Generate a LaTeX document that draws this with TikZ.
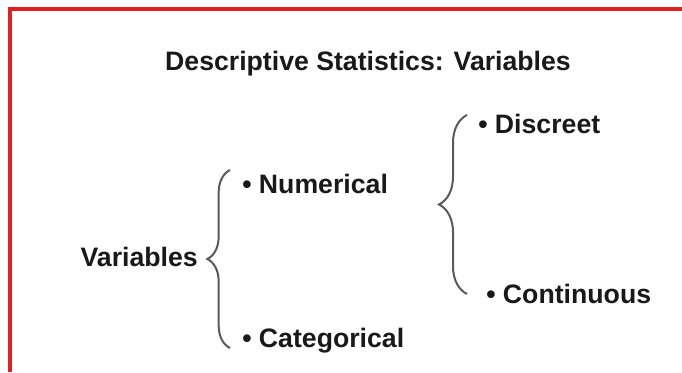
\documentclass[tikz,border=0pt]{standalone}
\usepackage{fontspec}
\setmainfont{Liberation Sans}
\usetikzlibrary{decorations.pathreplacing}

\definecolor{frame}{RGB}{221,34,34}
\definecolor{bracegray}{RGB}{90,90,90}

\tikzset{
  label/.style={font=\fontsize{20}{24}\selectfont\bfseries, text=black!90, inner sep=0pt},
  curly/.style={draw=bracegray, line width=1.5pt, decorate,
    decoration={brace, amplitude=#1, aspect=0.5}},
}

\begin{document}
\begin{tikzpicture}[x=0.75pt, y=-0.75pt]
				\useasboundingbox (0,0) rectangle (682,372);
				\fill[white] (0,0) rectangle (682,372);
				% red frame (top and left)
				\draw[frame, line width=2.5pt] (10,372) -- (10,9) -- (682,9);

				\node[label, anchor=base] (title) at (368,70) {Descriptive Statistics: Variables};
				\node[label, anchor=base east] (var) at (198,266) {Variables};

				\def\items {num/242/193/Numerical, cat/242/347/Categorical, disc/478/133/Discreet, cont/486/303/Continuous}  % list elements
				\foreach \n\x\y\txt in \items
				{	\node[label, anchor=base west] (\n) at (\x,\y) {\textbullet\ \txt};
				}

				% brace ends
				\coordinate (b1top) at (230,170);
				\coordinate (b1bot) at (230,348);
				\coordinate (b2top) at (467,115);
				\coordinate (b2bot) at (467,294);

				\draw[curly=17pt] (b1bot) -- (b1top);
				\draw[curly=21pt] (b2bot) -- (b2top);
			\end{tikzpicture}
\end{document}
